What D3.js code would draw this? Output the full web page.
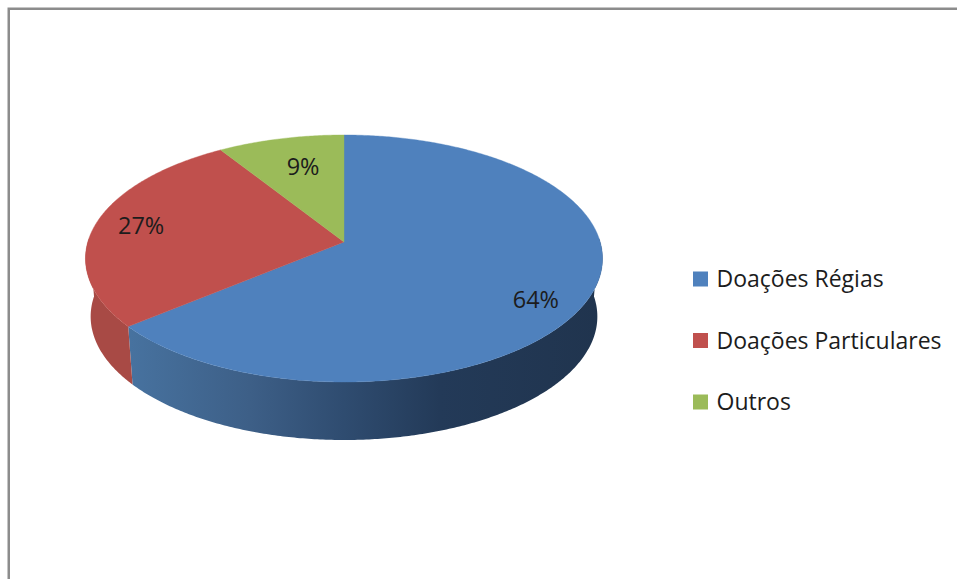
<!DOCTYPE html>
<html>
<head>
<meta charset="utf-8">
<script src="https://cdn.jsdelivr.net/npm/d3@7/dist/d3.min.js"></script>
<style>
  html, body { margin: 0; padding: 0; background: #fff; }
  svg { display: block; }
  text { font-family: "Open Sans", "Noto Sans", sans-serif; fill: #1c1c1c; }
</style>
</head>
<body>
<svg id="chart" width="957" height="579"></svg>
<script>
const categories = ["Doações Régias", "Doações Particulares", "Outros"];
const shares = [64, 27, 9];
const topColors = ["#4f81bd", "#c0504d", "#9bbb59"];
const wallStops = [
  ["#47729f", "#3d5f87", "#2f4c70", "#233a58", "#20344e"],
  ["#a84a45", "#a2463f", "#9c4440", "#9c4440", "#9c4440"],
  ["#7f9a49", "#7f9a49", "#7f9a49", "#7f9a49", "#7f9a49"]
];

const width = 957, height = 579;
const svg = d3.select("#chart");
const defs = svg.append("defs");

// Perspective view of the disc: centre of the pie on screen, foreshortening and depth of the rim.
const pieCx = 344, pieCy = 242, pieA = 256.2, pieB = 121.3, persp = -0.1336;
const depth = 58, lowerRimScale = 0.98;

// Projects a clockwise-from-top angle and radius (0..1) onto the tilted disc.
function project(angle, r = 1) {
  const u = r * Math.sin(angle), v = -r * Math.cos(angle);
  const w = 1 + persp * v;
  return [pieCx + pieA * u / w, pieCy + pieB * v / w];
}

const arcs = d3.pie().sort(null).startAngle(0).endAngle(2 * Math.PI)(shares);
const rimLine = d3.line().curve(d3.curveLinear);

function rimPoints(a0, a1) {
  const n = Math.max(2, Math.ceil((a1 - a0) / 0.01));
  return d3.range(n + 1).map(i => project(a0 + (a1 - a0) * i / n));
}

// Gradients run across the full width of the pie.
const gradientOffsets = d3.scaleLinear().domain([85, 602]).range([0, 1]);
const gradientXs = [130, 250, 344, 440, 600];
arcs.forEach((d, i) => {
  const g = defs.append("linearGradient")
    .attr("id", "wall" + i)
    .attr("gradientUnits", "userSpaceOnUse")
    .attr("x1", 85).attr("x2", 602).attr("y1", 0).attr("y2", 0);
  wallStops[i].forEach((c, j) =>
    g.append("stop").attr("offset", gradientOffsets(gradientXs[j])).attr("stop-color", c));
});

// Outer wall: the part of each slice's rim facing the viewer, extruded down and
// drawn in slightly at the bottom because the far edge recedes.
const wallLayer = svg.append("g");
arcs.forEach((d, i) => {
  const a0 = Math.max(d.startAngle, Math.PI / 2 - 0.03);
  const a1 = Math.min(d.endAngle, 3 * Math.PI / 2 + 0.03);
  if (a1 <= a0) return;
  const upper = rimPoints(a0, a1);
  const lower = upper
    .map(p => [pieCx + (p[0] - pieCx) * lowerRimScale, p[1] + depth])
    .reverse();
  wallLayer.append("path")
    .attr("d", rimLine(upper.concat(lower)) + "Z")
    .attr("fill", `url(#wall${i})`);
});

// Top face of the pie.
const faceLayer = svg.append("g");
arcs.forEach((d, i) => {
  const pts = [project(0, 0)].concat(rimPoints(d.startAngle, d.endAngle));
  faceLayer.append("path")
    .attr("d", rimLine(pts) + "Z")
    .attr("fill", topColors[i])
    .attr("stroke", topColors[i])
    .attr("stroke-width", 0.4);
});

// Percentage labels: radial fraction and small angular nudge per slice.
const labelRadius = [0.835, 0.817, 0.705];
const labelNudge = [0.128, 0.008, 0.033];
const labelPos = (d, i) => project((d.startAngle + d.endAngle) / 2 + labelNudge[i], labelRadius[i]);
svg.append("g").selectAll("text").data(arcs).join("text")
  .attr("x", (d, i) => labelPos(d, i)[0])
  .attr("y", (d, i) => labelPos(d, i)[1])
  .attr("text-anchor", "middle")
  .attr("dy", "0.36em")
  .attr("font-size", 23.5)
  .text(d => d.value + "%");

// Legend
const legendY = d3.scalePoint().domain(categories).range([279, 402]);
const legend = svg.append("g").selectAll("g").data(categories).join("g")
  .attr("transform", d => `translate(693,${legendY(d)})`);
legend.append("rect")
  .attr("x", 0).attr("y", -7.5).attr("width", 15).attr("height", 15)
  .attr("fill", (d, i) => topColors[i]);
legend.append("text")
  .attr("x", 23.5).attr("dy", "0.36em")
  .attr("font-size", 23)
  .text(d => d);

// Chart frame: only the top and left edges fall inside the view.
svg.append("path")
  .attr("d", d3.line()([[8.75, height], [8.75, 8.75], [width, 8.75]]))
  .attr("fill", "none")
  .attr("stroke", "#8c8c8c")
  .attr("stroke-width", 2.5);
</script>
</body>
</html>
